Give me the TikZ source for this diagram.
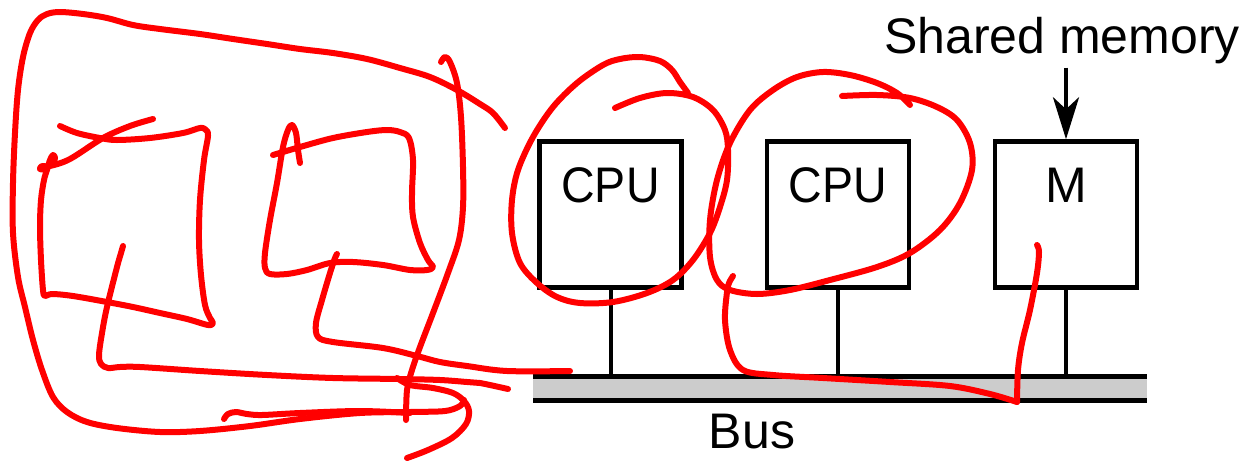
\documentclass[tikz,border=0pt]{standalone}
\usepackage{fontspec}
\setmainfont{Liberation Sans}
\usetikzlibrary{arrows.meta}
\begin{document}
\begin{tikzpicture}[x=1pt,y=-1pt,
  box/.style={draw=black,line width=4.5pt,minimum width=142pt,minimum height=146pt,inner sep=0pt,fill=white},
  lbl/.style={font=\fontsize{50}{60}\selectfont,inner sep=0pt,anchor=base},
  stem/.style={line width=4pt},
  busline/.style={line width=5pt},
  arr/.style={line width=4.5pt,-{Stealth[length=42pt,width=26pt,inset=12pt]}},
  scribble/.style={draw=red,line width=6pt,line cap=round,line join=round},
  sm/.style={smooth,tension=0.55}]
\useasboundingbox (0,0) rectangle (1250,461);
% --- diagram ---
\node[box] (cpu1) at (610.5,214.5) {};
\node[box] (cpu2) at (838,214.5) {};
\node[box] (mbox) at (1066,214.5) {};
\node[lbl,xscale=0.93] (cpu1t) at (610.5,202) {CPU};
\node[lbl,xscale=0.93] (cpu2t) at (838,202) {CPU};
\node[lbl] (mt) at (1066,202) {M};
\node[lbl] (shared) at (1062,53) {Shared memory};
\node[lbl] (bus) at (752,448) {Bus};
\coordinate (busTL) at (533,376);
\coordinate (busBR) at (1147,400);
\fill[black!20] (busTL) rectangle (busBR);
\draw[busline] (busTL) -- (busTL -| busBR);
\draw[busline] (busTL |- busBR) -- (busBR);
\draw[stem] (cpu1.south) -- (cpu1.south |- busTL);
\draw[stem] (cpu2.south) -- (cpu2.south |- busTL);
\draw[stem] (mbox.south) -- (mbox.south |- busTL);
\draw[arr] ([yshift=-4pt]shared.south -| mbox.north) -- (mbox.north);
% --- red scribbles ---
\draw[scribble] plot[sm] coordinates {(505,128) (493,113) (480,104) (457,90) (430,77) (400,68) (367,59) (333,53) (300,49) (267,44) (233,39) (200,34) (160,29) (133,25) (107,18) (83,14) (60,12) (47,14) (38,20) (30,33) (23,57) (18,90) (15,133) (13,183) (13,233) (18,277) (25,307) (33,340) (42,370) (53,397) (67,412) (87,422) (117,428) (160,432) (200,431) (250,426) (300,419) (360,413) (410,412) (445,411) (460,406) (464,400)};
\draw[scribble] plot[sm] coordinates {(224,419) (228,414) (236,412) (247,414) (262,415) (300,413) (360,411) (410,413)};
\draw[scribble] plot[sm] coordinates {(397,378) (410,385) (433,388) (453,393) (464,401) (469,411) (466,424) (452,438) (428,450) (407,458)};
\draw[scribble] plot[sm] coordinates {(60,126) (77,133) (100,138) (117,140) (150,138) (183,133) (200,128) (206,130) (208,136) (204,160) (200,200) (199,240) (201,275) (205,305) (210,318) (213,323) (208,325) (187,319) (160,313) (133,307) (107,302) (73,296) (52,294) (45,296) (43,290) (41,260) (40,227) (41,200) (44,180) (47,170) (50,160) (53,155) (55,158) (52,164) (44,169) (40,169) (42,166) (50,166) (70,159) (103,138) (130,126) (153,119)};
\draw[scribble] plot[sm] coordinates {(123,246) (121,253) (117,267) (107,307) (102,333) (99,355) (101,364) (108,368) (120,367) (140,367) (200,371) (267,375) (333,378) (400,379) (440,380) (467,382) (480,383) (508,389)};
\draw[scribble] plot[sm] coordinates {(273,155) (300,147) (333,138) (367,132) (387,130) (400,132) (409,138) (413,160) (412,193) (413,217) (420,243) (428,260) (433,267) (427,270) (410,270) (383,265) (353,262) (330,263) (307,270) (287,274) (270,274) (265,268) (265,253) (270,220) (277,183) (283,147) (288,130) (292,125) (296,133) (298,150) (300,163)};
\draw[scribble] plot[sm] coordinates {(337,254) (335,258) (330,273) (322,300) (316,323) (318,337) (333,342) (383,348) (417,356) (440,362) (467,366) (507,371) (570,371)};
\draw[scribble] plot[sm] coordinates {(441,62) (445,57) (450,62) (457,83) (461,117) (463,167) (463,207) (459,240) (448,273) (433,313) (420,347) (412,370) (407,390) (406,420)};
\draw[scribble] plot[sm] coordinates {(688,93) (680,82) (672,70) (660,61) (640,57) (620,59) (603,65) (577,83) (553,107) (533,137) (518,170) (512,200) (512,233) (520,263) (537,283) (557,297) (580,303) (613,302) (647,293) (673,280) (693,260) (710,233) (720,207) (727,180) (728,150) (725,130) (713,110) (693,97) (667,93) (640,98) (615,108)};
\draw[scribble] plot[sm] coordinates {(910,105) (897,93) (877,83) (850,75) (823,72) (797,77) (773,90) (750,110) (730,143) (717,180) (710,220) (710,257) (717,280) (730,290) (757,294) (790,290) (830,280) (877,267) (910,253) (940,230) (960,203) (972,170) (970,143) (957,120) (937,107) (910,98) (877,95) (842,96)};
\draw[scribble] plot[sm] coordinates {(733,276) (729,283) (727,292) (725,320) (730,350) (743,370) (773,375) (823,378) (890,382) (950,386) (990,394) (1017,402)};
\draw[scribble] plot[sm] coordinates {(1017,402) (1018,370) (1022,343) (1030,310) (1037,273) (1039,252) (1037,245)};
\end{tikzpicture}
\end{document}
